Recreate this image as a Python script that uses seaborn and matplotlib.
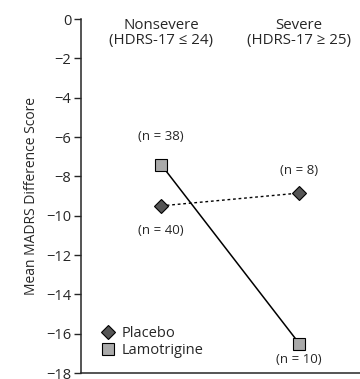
import matplotlib
matplotlib.use("Agg")
import matplotlib.pyplot as plt
import seaborn as sns
import pandas as pd
from matplotlib.lines import Line2D

groups = ["Nonsevere\n(HDRS-17 \u2264 24)", "Severe\n(HDRS-17 \u2265 25)"]
placebo = [-9.5, -8.85]
lamotrigine = [-7.4, -16.5]
placebo_n = ["(n = 40)", "(n = 8)"]
lamotrigine_n = ["(n = 38)", "(n = 10)"]
yticks = [0, -2, -4, -6, -8, -10, -12, -14, -16, -18]

df = pd.DataFrame({
    "pos": [0, 1, 0, 1],
    "score": placebo + lamotrigine,
    "treatment": ["Placebo"] * 2 + ["Lamotrigine"] * 2,
})

sns.set_style("ticks")
plt.rcParams['font.family'] = ['Open Sans', 'DejaVu Sans']

fig = plt.figure(figsize=(3.6, 3.79), dpi=100)
ax = fig.add_axes([0.225, 0.0158, 0.775, 0.934])

sns.lineplot(data=df[df.treatment == "Placebo"], x="pos", y="score", ax=ax,
             color="black", linewidth=1, linestyle=(0, (2, 2)),
             marker="D", markersize=7, markerfacecolor="#555555",
             markeredgecolor="black", markeredgewidth=0.8, clip_on=False)
sns.lineplot(data=df[df.treatment == "Lamotrigine"], x="pos", y="score", ax=ax,
             color="black", linewidth=1.1,
             marker="s", markersize=8, markerfacecolor="#aaaaaa",
             markeredgecolor="black", markeredgewidth=0.8, clip_on=False)

ax.set_xlim(-0.58, 1.44)
ax.set_ylim(-18, 0)
ax.set_yticks(yticks)
ax.set_yticklabels([str(t).replace("-", "\u2212") for t in yticks], fontsize=10.5)
ax.set_xticks([])
ax.set_xlabel("")
ax.set_ylabel("Mean MADRS Difference Score", fontsize=10, labelpad=5)
ax.tick_params(axis="y", length=5, width=1, pad=2)
for s in ["top", "right"]:
    ax.spines[s].set_visible(False)
ax.spines["left"].set_linewidth(1.1)
ax.spines["bottom"].set_linewidth(1.1)

for i, g in enumerate(groups):
    ax.text(i, -0.72, g, ha="center", va="center", fontsize=10.8, linespacing=1.05)

# n labels
ax.text(0, -5.95, lamotrigine_n[0], ha="center", va="center", fontsize=9.5)
ax.text(0, -10.73, placebo_n[0], ha="center", va="center", fontsize=9.5)
ax.text(1, -7.68, placebo_n[1], ha="center", va="center", fontsize=9.5)
ax.text(1, -17.29, lamotrigine_n[1], ha="center", va="center", fontsize=9.5)

handles = [
    Line2D([], [], linestyle="none", marker="D", markersize=7,
           markerfacecolor="#555555", markeredgecolor="black", markeredgewidth=0.8),
    Line2D([], [], linestyle="none", marker="s", markersize=8,
           markerfacecolor="#aaaaaa", markeredgecolor="black", markeredgewidth=0.8),
]
ax.legend(handles, ["Placebo", "Lamotrigine"], loc="lower left",
          bbox_to_anchor=(0.025, 0.005), frameon=False, fontsize=10.5,
          handlelength=1, handletextpad=0.4, labelspacing=0.15)

fig.savefig("out.png", dpi=100)
